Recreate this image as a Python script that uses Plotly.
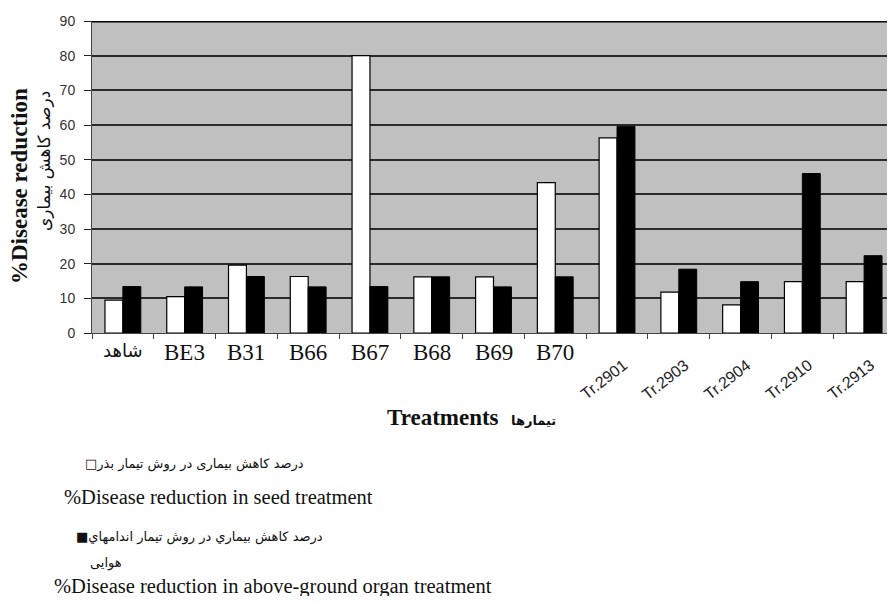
import plotly.graph_objects as go

categories = ["شاهد", "BE3", "B31", "B66", "B67", "B68", "B69", "B70",
              "Tr.2901", "Tr.2903", "Tr.2904", "Tr.2910", "Tr.2913"]
seed_treatment = [9.5, 10.5, 19.6, 16.3, 80.0, 16.2, 16.2, 43.4, 56.3, 11.8, 8.1, 14.8, 14.8]
organ_treatment = [13.4, 13.3, 16.3, 13.3, 13.4, 16.2, 13.3, 16.2, 59.6, 18.4, 14.8, 46.0, 22.3]

seed_name_fa = "درصد کاهش بیماری در روش تیمار بذر"
seed_name_en = "%Disease reduction in seed treatment"
organ_name_fa = "درصد کاهش بیماري در روش تیمار اندامهاي"
organ_name_fa2 = "هوایی"
organ_name_en = "%Disease reduction in above-ground organ treatment"
y_title_en = "%Disease reduction"
y_title_fa = "درصد کاهش بیماری"
x_title_en = "Treatments"
x_title_fa = "تیمارها"

SERIF = "Liberation Serif, Times New Roman, serif"
SANS = "Liberation Sans, Arial, sans-serif"
ARAB = "DejaVu Sans, Noto Sans, sans-serif"

# page offset of the figure (body margin) and figure size
OX, OY = 8, 8
W, H = 887, 588
# plot area in page pixels
P_LEFT, P_RIGHT, P_TOP, P_BOTTOM = 92, 895, 21, 333
L = P_LEFT - OX
R = W - (P_RIGHT - OX)
T = P_TOP - OY
B = H - (P_BOTTOM - OY)
pw, ph = W - L - R, H - T - B


def px(xp):
    return (xp - OX - L) / pw


def py(yp):
    return (H - B - (yp - OY)) / ph


fig = go.Figure()
fig.add_trace(go.Bar(x=categories, y=seed_treatment, name=seed_name_en,
                     marker=dict(color="white", line=dict(color="black", width=1.2))))
fig.add_trace(go.Bar(x=categories, y=organ_treatment, name=organ_name_en,
                     marker=dict(color="black", line=dict(color="black", width=1))))

annotations = []
for i, c in enumerate(categories):
    if c.startswith("Tr"):
        annotations.append(dict(x=c, y=0, xref="x", yref="y", text=c, showarrow=False,
                                textangle=-38, xanchor="right", yanchor="top",
                                xshift=16, yshift=-20,
                                font=dict(family=SANS, size=16, color="#222")))
    else:
        fam = ARAB if i == 0 else SERIF
        sz = 18 if i == 0 else 23
        annotations.append(dict(x=c, y=0, xref="x", yref="y", text=c, showarrow=False,
                                xanchor="center", yanchor="top", yshift=-5,
                                font=dict(family=fam, size=sz, color="#111")))

# y-axis title
annotations.append(dict(x=px(19), y=py(186), xref="paper", yref="paper", text="<b>" + y_title_en + "</b>",
                        showarrow=False, textangle=-90, xanchor="center", yanchor="middle",
                        font=dict(family=SERIF, size=23, color="#111")))
annotations.append(dict(x=px(44), y=py(161), xref="paper", yref="paper", text=y_title_fa,
                        showarrow=False, textangle=-90, xanchor="center", yanchor="middle",
                        font=dict(family=ARAB, size=17, color="#111")))
# x-axis title
annotations.append(dict(x=px(443), y=py(417), xref="paper", yref="paper", text="<b>" + x_title_en + "</b>",
                        showarrow=False, xanchor="center", yanchor="middle",
                        font=dict(family=SERIF, size=23, color="#111")))
annotations.append(dict(x=px(533), y=py(421), xref="paper", yref="paper", text="<b>" + x_title_fa + "</b>",
                        showarrow=False, xanchor="center", yanchor="middle",
                        font=dict(family=ARAB, size=13, color="#111")))
# legend texts
annotations.append(dict(x=px(83), y=py(464), xref="paper", yref="paper", text="□" + seed_name_fa,
                        showarrow=False, xanchor="left", yanchor="middle",
                        font=dict(family=ARAB, size=13, color="#111")))
annotations.append(dict(x=px(62), y=py(497), xref="paper", yref="paper", text=seed_name_en,
                        showarrow=False, xanchor="left", yanchor="middle",
                        font=dict(family=SERIF, size=20.5, color="#111")))
annotations.append(dict(x=px(74), y=py(537), xref="paper", yref="paper", text="■" + organ_name_fa,
                        showarrow=False, xanchor="left", yanchor="middle",
                        font=dict(family=ARAB, size=13, color="#111")))
annotations.append(dict(x=px(88), y=py(563), xref="paper", yref="paper", text=organ_name_fa2,
                        showarrow=False, xanchor="left", yanchor="middle",
                        font=dict(family=ARAB, size=13, color="#111")))
annotations.append(dict(x=px(52), y=py(586), xref="paper", yref="paper", text=organ_name_en,
                        showarrow=False, xanchor="left", yanchor="middle",
                        font=dict(family=SERIF, size=20.5, color="#111")))

fig.update_layout(
    width=W, height=H,
    margin=dict(l=L, r=R, t=T, b=B, pad=0),
    paper_bgcolor="white",
    plot_bgcolor="#c0c0c0",
    barmode="group",
    bargap=0.42,
    bargroupgap=0,
    showlegend=False,
    annotations=annotations,
    shapes=[dict(type="line", xref="paper", yref="y", x0=0, x1=1, y0=90, y1=90,
                 line=dict(color="black", width=3))],
)
fig.update_xaxes(showticklabels=False, ticks="outside", tickson="boundaries", ticklen=5,
                 tickcolor="#444", showline=True, linecolor="#444", linewidth=1,
                 showgrid=False)
fig.update_yaxes(range=[0, 90], dtick=10, ticks="outside", ticklen=7, tickcolor="#222",
                 ticklabelstandoff=6,
                 showline=True, linecolor="#444", linewidth=1,
                 showgrid=True, gridcolor="#2b2b2b", gridwidth=2, zeroline=False,
                 tickfont=dict(family=SANS, size=14, color="#333"))

fig.write_html("out.html")
